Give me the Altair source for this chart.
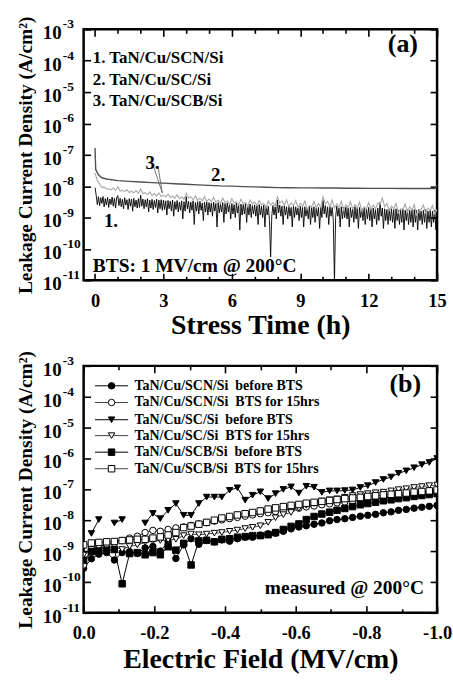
import altair as alt
import pandas as pd

SERIF = "Liberation Serif"

# ---------------- (a) leakage current during bias-temperature stress ----------------
# SCN trace, sampled every 0.05 h
scn_hours = [
    0.00, 0.05, 0.10, 0.15, 0.20, 0.25, 0.30, 0.35, 0.40, 0.45, 0.50, 0.55, 0.60, 0.65, 0.70, 0.75, 0.80, 0.85, 0.90, 0.95,
    1.00, 1.05, 1.10, 1.15, 1.20, 1.25, 1.30, 1.35, 1.40, 1.45, 1.50, 1.55, 1.60, 1.65, 1.70, 1.75, 1.80, 1.85, 1.90, 1.95,
    2.00, 2.05, 2.10, 2.15, 2.20, 2.25, 2.30, 2.35, 2.40, 2.45, 2.50, 2.55, 2.60, 2.65, 2.70, 2.75, 2.80, 2.85, 2.90, 2.95,
    3.00, 3.05, 3.10, 3.15, 3.20, 3.25, 3.30, 3.35, 3.40, 3.45, 3.50, 3.55, 3.60, 3.65, 3.70, 3.75, 3.80, 3.85, 3.90, 3.95,
    4.00, 4.05, 4.10, 4.15, 4.20, 4.25, 4.30, 4.35, 4.40, 4.45, 4.50, 4.55, 4.60, 4.65, 4.70, 4.75, 4.80, 4.85, 4.90, 4.95,
    5.00, 5.05, 5.10, 5.15, 5.20, 5.25, 5.30, 5.35, 5.40, 5.45, 5.50, 5.55, 5.60, 5.65, 5.70, 5.75, 5.80, 5.85, 5.90, 5.95,
    6.00, 6.05, 6.10, 6.15, 6.20, 6.25, 6.30, 6.35, 6.40, 6.45, 6.50, 6.55, 6.60, 6.65, 6.70, 6.75, 6.80, 6.85, 6.90, 6.95,
    7.00, 7.05, 7.10, 7.15, 7.20, 7.25, 7.30, 7.35, 7.40, 7.45, 7.50, 7.55, 7.60, 7.65, 7.70, 7.75, 7.80, 7.85, 7.90, 7.95,
    8.00, 8.05, 8.10, 8.15, 8.20, 8.25, 8.30, 8.35, 8.40, 8.45, 8.50, 8.55, 8.60, 8.65, 8.70, 8.75, 8.80, 8.85, 8.90, 8.95,
    9.00, 9.05, 9.10, 9.15, 9.20, 9.25, 9.30, 9.35, 9.40, 9.45, 9.50, 9.55, 9.60, 9.65, 9.70, 9.75, 9.80, 9.85, 9.90, 9.95,
    10.00, 10.05, 10.10, 10.15, 10.20, 10.25, 10.30, 10.35, 10.40, 10.45, 10.50, 10.55, 10.60, 10.65, 10.70, 10.75, 10.80, 10.85, 10.90, 10.95,
    11.00, 11.05, 11.10, 11.15, 11.20, 11.25, 11.30, 11.35, 11.40, 11.45, 11.50, 11.55, 11.60, 11.65, 11.70, 11.75, 11.80, 11.85, 11.90, 11.95,
    12.00, 12.05, 12.10, 12.15, 12.20, 12.25, 12.30, 12.35, 12.40, 12.45, 12.50, 12.55, 12.60, 12.65, 12.70, 12.75, 12.80, 12.85, 12.90, 12.95,
    13.00, 13.05, 13.10, 13.15, 13.20, 13.25, 13.30, 13.35, 13.40, 13.45, 13.50, 13.55, 13.60, 13.65, 13.70, 13.75, 13.80, 13.85, 13.90, 13.95,
    14.00, 14.05, 14.10, 14.15, 14.20, 14.25, 14.30, 14.35, 14.40, 14.45, 14.50, 14.55, 14.60, 14.65, 14.70, 14.75, 14.80, 14.85, 14.90, 14.95,
    15.00,
]
scn_current = [
    9.0e-9, 5.2e-9, 2.6e-9, 4.6e-9, 2.4e-9, 4.3e-9, 2.8e-9, 4.7e-9, 2.2e-9, 4.0e-9, 2.5e-9, 4.4e-9, 2.1e-9, 3.9e-9, 2.6e-9, 4.5e-9, 2.3e-9, 4.1e-9, 2.0e-9, 4.2e-9,
    5.0e-9, 2.4e-9, 4.1e-9, 2.2e-9, 3.8e-9, 1.9e-9, 4.3e-9, 2.5e-9, 3.7e-9, 1.8e-9, 4.0e-9, 2.3e-9, 3.9e-9, 1.6e-9, 4.1e-9, 2.2e-9, 3.6e-9, 2.0e-9, 4.0e-9, 2.1e-9,
    5.2e-9, 2.3e-9, 3.9e-9, 1.9e-9, 3.7e-9, 2.2e-9, 4.0e-9, 1.5e-9, 3.6e-9, 2.0e-9, 3.8e-9, 1.8e-9, 3.5e-9, 2.1e-9, 3.9e-9, 1.4e-9, 3.6e-9, 1.9e-9, 3.7e-9, 1.7e-9,
    3.6e-9, 1.8e-9, 3.4e-9, 1.2e-9, 3.5e-9, 1.9e-9, 3.3e-9, 1.6e-9, 3.6e-9, 1.1e-9, 3.2e-9, 1.8e-9, 3.5e-9, 1.5e-9, 3.1e-9, 1.7e-9, 3.4e-9, 9.0e-10, 3.2e-9, 1.6e-9,
    4.6e-9, 1.9e-9, 3.3e-9, 1.4e-9, 3.1e-9, 1.7e-9, 3.4e-9, 6.0e-10, 3.0e-9, 1.6e-9, 3.2e-9, 1.3e-9, 3.3e-9, 1.7e-9, 2.9e-9, 8.0e-10, 3.1e-9, 1.5e-9, 3.2e-9, 1.2e-9,
    3.0e-9, 1.5e-9, 2.9e-9, 1.1e-9, 3.1e-9, 1.6e-9, 2.8e-9, 5.0e-10, 3.0e-9, 1.4e-9, 2.7e-9, 1.5e-9, 3.0e-9, 7.0e-10, 2.8e-9, 1.3e-9, 2.9e-9, 1.5e-9, 2.7e-9, 9.0e-10,
    2.8e-9, 1.3e-9, 2.6e-9, 1.0e-9, 2.9e-9, 1.4e-9, 2.5e-9, 4.0e-10, 2.7e-9, 1.2e-9, 2.6e-9, 1.3e-9, 2.8e-9, 7.0e-10, 2.5e-9, 1.2e-9, 2.7e-9, 1.0e-9, 2.4e-9, 1.3e-9,
    2.5e-9, 1.1e-9, 2.4e-9, 6.0e-10, 2.6e-9, 1.2e-9, 2.3e-9, 1.0e-9, 2.5e-9, 5.0e-10, 2.4e-9, 1.2e-9, 2.3e-9, 8.0e-10, 5.5e-11, 1.1e-9, 2.4e-9, 1.2e-9, 2.2e-9, 9.0e-10,
    3.6e-9, 1.4e-9, 2.5e-9, 1.1e-9, 2.3e-9, 6.0e-10, 2.4e-9, 1.2e-9, 2.2e-9, 9.0e-10, 2.4e-9, 1.1e-9, 2.1e-9, 5.0e-10, 2.3e-9, 1.0e-9, 2.2e-9, 1.2e-9, 2.0e-9, 8.0e-10,
    2.3e-9, 1.0e-9, 2.1e-9, 5.0e-10, 2.2e-9, 1.1e-9, 2.0e-9, 9.0e-10, 2.3e-9, 6.0e-10, 2.1e-9, 1.0e-9, 2.2e-9, 7.0e-10, 2.0e-9, 1.1e-9, 2.1e-9, 4.5e-10, 2.2e-9, 1.0e-9,
    3.5e-9, 1.3e-9, 2.4e-9, 1.0e-9, 2.2e-9, 6.0e-10, 2.3e-9, 1.1e-9, 2.1e-9, 8.0e-10, 9.0e-12, 1.0e-9, 2.3e-9, 1.1e-9, 2.0e-9, 5.0e-10, 2.2e-9, 9.0e-10, 2.1e-9, 1.0e-9,
    2.2e-9, 9.0e-10, 2.0e-9, 5.0e-10, 2.1e-9, 1.0e-9, 1.9e-9, 7.0e-10, 2.2e-9, 9.0e-10, 2.0e-9, 4.5e-10, 2.1e-9, 1.0e-9, 1.9e-9, 8.0e-10, 2.0e-9, 6.0e-10, 1.9e-9, 9.0e-10,
    2.1e-9, 8.0e-10, 1.9e-9, 5.0e-10, 2.0e-9, 9.0e-10, 1.8e-9, 6.0e-10, 2.0e-9, 8.0e-10, 3.0e-9, 1.1e-9, 2.0e-9, 4.5e-10, 1.9e-9, 8.0e-10, 1.8e-9, 6.0e-10, 1.9e-9, 8.0e-10,
    1.9e-9, 7.0e-10, 1.8e-9, 4.5e-10, 1.9e-9, 8.0e-10, 1.7e-9, 6.0e-10, 1.8e-9, 7.0e-10, 1.9e-9, 4.0e-10, 1.7e-9, 8.0e-10, 1.8e-9, 6.0e-10, 1.7e-9, 7.0e-10, 1.8e-9, 5.0e-10,
    1.8e-9, 7.0e-10, 1.7e-9, 4.0e-10, 1.8e-9, 8.0e-10, 1.6e-9, 6.0e-10, 1.7e-9, 7.0e-10, 1.8e-9, 4.5e-10, 1.6e-9, 7.0e-10, 1.7e-9, 5.0e-10, 1.6e-9, 7.0e-10, 1.7e-9, 4.0e-10,
    1.2e-9,
]

# SCB trace, sampled every 0.1 h
scb_hours = [
    0.0, 0.1, 0.2, 0.3, 0.4, 0.5, 0.6, 0.7, 0.8, 0.9,
    1.0, 1.1, 1.2, 1.3, 1.4, 1.5, 1.6, 1.7, 1.8, 1.9,
    2.0, 2.1, 2.2, 2.3, 2.4, 2.5, 2.6, 2.7, 2.8, 2.9,
    3.0, 3.1, 3.2, 3.3, 3.4, 3.5, 3.6, 3.7, 3.8, 3.9,
    4.0, 4.1, 4.2, 4.3, 4.4, 4.5, 4.6, 4.7, 4.8, 4.9,
    5.0, 5.1, 5.2, 5.3, 5.4, 5.5, 5.6, 5.7, 5.8, 5.9,
    6.0, 6.1, 6.2, 6.3, 6.4, 6.5, 6.6, 6.7, 6.8, 6.9,
    7.0, 7.1, 7.2, 7.3, 7.4, 7.5, 7.6, 7.7, 7.8, 7.9,
    8.0, 8.1, 8.2, 8.3, 8.4, 8.5, 8.6, 8.7, 8.8, 8.9,
    9.0, 9.1, 9.2, 9.3, 9.4, 9.5, 9.6, 9.7, 9.8, 9.9,
    10.0, 10.1, 10.2, 10.3, 10.4, 10.5, 10.6, 10.7, 10.8, 10.9,
    11.0, 11.1, 11.2, 11.3, 11.4, 11.5, 11.6, 11.7, 11.8, 11.9,
    12.0, 12.1, 12.2, 12.3, 12.4, 12.5, 12.6, 12.7, 12.8, 12.9,
    13.0, 13.1, 13.2, 13.3, 13.4, 13.5, 13.6, 13.7, 13.8, 13.9,
    14.0, 14.1, 14.2, 14.3, 14.4, 14.5, 14.6, 14.7, 14.8, 14.9,
    15.0,
]
scb_current = [
    2.6e-8, 1.5e-8, 1.2e-8, 9.0e-9, 9.5e-9, 8.0e-9, 8.2e-9, 7.6e-9, 8.8e-9, 7.3e-9,
    9.6e-9, 7.0e-9, 7.4e-9, 6.6e-9, 7.8e-9, 6.3e-9, 6.9e-9, 6.1e-9, 7.2e-9, 5.9e-9,
    8.0e-9, 5.8e-9, 6.2e-9, 5.4e-9, 6.6e-9, 5.1e-9, 5.8e-9, 4.9e-9, 6.1e-9, 4.7e-9,
    5.2e-9, 4.6e-9, 5.6e-9, 4.3e-9, 4.9e-9, 4.1e-9, 5.3e-9, 4.0e-9, 4.6e-9, 3.8e-9,
    6.0e-9, 4.2e-9, 4.6e-9, 3.7e-9, 4.9e-9, 3.5e-9, 4.2e-9, 3.4e-9, 4.6e-9, 3.3e-9,
    3.9e-9, 3.2e-9, 4.4e-9, 3.1e-9, 3.6e-9, 2.8e-9, 4.2e-9, 3.0e-9, 3.4e-9, 2.6e-9,
    4.0e-9, 2.9e-9, 3.3e-9, 2.5e-9, 3.8e-9, 2.8e-9, 3.0e-9, 2.2e-9, 3.6e-9, 2.7e-9,
    3.1e-9, 2.4e-9, 3.5e-9, 2.6e-9, 2.8e-9, 2.0e-9, 3.4e-9, 2.5e-9, 3.0e-9, 2.3e-9,
    4.6e-9, 2.9e-9, 3.4e-9, 2.5e-9, 3.7e-9, 2.2e-9, 2.9e-9, 2.4e-9, 3.5e-9, 2.1e-9,
    2.8e-9, 2.3e-9, 3.4e-9, 1.8e-9, 2.4e-9, 2.2e-9, 3.3e-9, 2.0e-9, 2.8e-9, 2.1e-9,
    4.6e-9, 2.7e-9, 3.3e-9, 2.2e-9, 3.6e-9, 2.0e-9, 2.7e-9, 2.1e-9, 3.3e-9, 1.7e-9,
    2.5e-9, 2.1e-9, 3.2e-9, 1.9e-9, 2.6e-9, 2.0e-9, 3.1e-9, 1.6e-9, 2.2e-9, 1.9e-9,
    3.0e-9, 1.8e-9, 2.5e-9, 1.9e-9, 2.9e-9, 2.6e-9, 4.2e-9, 2.2e-9, 2.8e-9, 1.7e-9,
    2.3e-9, 1.9e-9, 2.8e-9, 1.4e-9, 1.9e-9, 1.8e-9, 2.7e-9, 1.5e-9, 2.2e-9, 1.7e-9,
    2.6e-9, 1.2e-9, 1.6e-9, 1.8e-9, 2.5e-9, 1.4e-9, 2.0e-9, 1.7e-9, 2.4e-9, 1.3e-9,
    1.8e-9,
]

# SC trace
sc_hours = [
    0.0, 0.03, 0.15, 0.3, 0.5, 1.0, 1.5, 2.0, 2.5, 3.0, 3.5, 4.0, 4.5, 5.0, 5.5,
    6.0, 6.5, 7.0, 7.5, 8.0, 8.5, 9.0, 9.5, 10.0, 10.5, 11.0, 11.5, 12.0, 12.5,
    13.0, 13.5, 14.0, 14.5, 14.9, 15.0,
]
sc_current = [
    1.65e-7, 3.4e-8, 2.3e-8, 1.85e-8, 1.7e-8, 1.5e-8, 1.42e-8, 1.36e-8, 1.3e-8,
    1.25e-8, 1.2e-8, 1.15e-8, 1.1e-8, 1.06e-8, 1.02e-8, 1.0e-8, 9.7e-9, 9.5e-9,
    9.2e-9, 9.0e-9, 8.9e-9, 8.8e-9, 8.8e-9, 8.7e-9, 8.7e-9, 8.6e-9, 8.6e-9,
    8.5e-9, 8.5e-9, 8.5e-9, 8.4e-9, 8.4e-9, 8.4e-9, 8.4e-9, 1.0e-8,
]

hour_major = [0, 3, 6, 9, 12, 15]
hour_minor = [1, 2, 4, 5, 7, 8, 10, 11, 13, 14]

sample_text = ["1. TaN/Cu/SCN/Si", "2. TaN/Cu/SC/Si", "3. TaN/Cu/SCB/Si"]
sample_text_current = [1.2e-4, 2.4e-5, 5.1e-6]
curve_tags = ["1.", "2.", "3."]
curve_tag_hours = [0.7, 5.4, 2.52]
curve_tag_current = [7.7e-10, 2.35e-8, 5.5e-8]

# ---------------- (b) J-E characteristics before / after BTS ----------------
field_mvcm = [
    0.000, -0.022, -0.043, -0.065, -0.087, -0.109, -0.130, -0.152, -0.174, -0.196,
    -0.217, -0.239, -0.261, -0.283, -0.304, -0.326, -0.348, -0.370, -0.391, -0.413,
    -0.435, -0.457, -0.478, -0.500, -0.522, -0.543, -0.565, -0.587, -0.609, -0.630,
    -0.652, -0.674, -0.696, -0.717, -0.739, -0.761, -0.783, -0.804, -0.826, -0.848,
    -0.870, -0.891, -0.913, -0.935, -0.957, -0.978, -1.000,
]
# log10 of the leakage current density (A/cm2)
log_scn_before = [
    -9.56, -9.25, -9.10, -9.05, -9.29, -9.05, -9.02, -9.08, -8.90, -8.85,
    -9.00, -8.70, -9.24, -8.80, -8.60, -8.78, -8.66, -8.70, -8.64, -8.68,
    -8.60, -8.55, -8.55, -8.48, -8.44, -8.42, -8.36, -8.28, -8.22, -8.18,
    -8.13, -8.09, -8.02, -7.98, -7.95, -7.91, -7.87, -7.84, -7.81, -7.76,
    -7.73, -7.68, -7.65, -7.61, -7.58, -7.55, -7.52,
]
log_scn_after = [
    -9.45, -8.95, -8.85, -8.80, -8.72, -8.66, -8.58, -8.52, -8.40, -8.33,
    -8.36, -8.30, -8.25, -8.22, -8.17, -8.12, -8.08, -8.03, -7.99, -7.95,
    -7.91, -7.87, -7.83, -7.79, -7.76, -7.72, -7.68, -7.64, -7.61, -7.57,
    -7.54, -7.50, -7.47, -7.44, -7.41, -7.38, -7.35, -7.33, -7.30, -7.27,
    -7.25, -7.22, -7.19, -7.17, -7.14, -7.11, -7.08,
]
log_sc_before = [
    None, -8.43, -7.98, None, -8.09, -7.98, None, None, -8.09, -7.78,
    -7.95, -7.68, -7.46, -7.84, -7.84, -7.46, -7.25, -7.25, -7.25, -7.03,
    -6.95, -7.35, -7.19, -7.08, -7.30, -7.14, -7.00, -6.92, -7.12, -6.90,
    -6.93, -7.10, -7.05, -7.05, -7.04, -7.02, -6.94, -6.88, -6.78, -6.68,
    -6.60, -6.48, -6.40, -6.30, -6.20, -6.13, -6.00,
]
log_sc_after = [
    -9.13, -8.95, -8.90, -8.88, -8.86, -8.95, -8.85, -8.80, -8.72, -8.68,
    -8.66, -8.64, -8.62, -8.50, -8.45, -8.47, -8.45, -8.42, -8.40, -8.36,
    -8.32, -8.27, -8.23, -8.18, -8.07, -7.92, -7.82, -7.75, -7.62, -7.52,
    -7.46, -7.38, -7.34, -7.31, -7.26, -7.20, -7.17, -7.14, -7.11, -7.09,
    -7.05, -7.01, -6.98, -6.94, -6.91, -6.88, -6.86,
]
log_scb_before = [
    -9.30, -9.02, -9.00, -8.97, -8.95, -10.06, -9.08, -9.05, -9.12, -9.05,
    -9.12, -8.86, -8.97, -8.75, -9.45, -8.67, -8.65, -8.70, -8.62, -8.60,
    -8.55, -8.53, -8.50, -8.50, -8.47, -8.40, -8.30, -8.20, -8.12, -7.98,
    -7.88, -7.80, -7.74, -7.68, -7.62, -7.56, -7.50, -7.46, -7.42, -7.37,
    -7.34, -7.30, -7.27, -7.23, -7.20, -7.17, -7.14,
]
log_scb_after = [
    -8.80, -8.74, -8.72, -8.70, -8.69, -8.66, -8.64, -8.62, -8.62, -8.58,
    -8.54, -8.48, -8.40, -8.24, -8.19, -8.13, -8.07, -8.00, -7.93, -7.88,
    -7.83, -7.79, -7.75, -7.70, -7.64, -7.60, -7.56, -7.52, -7.49, -7.45,
    -7.42, -7.39, -7.36, -7.33, -7.30, -7.28, -7.26, -7.23, -7.21, -7.18,
    -7.16, -7.14, -7.12, -7.09, -7.07, -7.05, -7.02,
]

series_names = [
    "TaN/Cu/SCN/Si\u00a0 before BTS",
    "TaN/Cu/SCN/Si\u00a0 BTS for 15hrs",
    "TaN/Cu/SC/Si\u00a0 before BTS",
    "TaN/Cu/SC/Si\u00a0 BTS for 15hrs",
    "TaN/Cu/SCB/Si\u00a0 before BTS",
    "TaN/Cu/SCB/Si\u00a0 BTS for 15hrs",
]
series_logs = [log_scn_before, log_scn_after, log_sc_before,
               log_sc_after, log_scb_before, log_scb_after]
series_shapes = ["circle", "circle", "triangle-down", "triangle-down", "square", "square"]
series_fills = ["black", "white", "black", "white", "black", "white"]
series_lines = ["black", "#444444", "black", "#444444", "black", "#444444"]
legend_row_current = [2.26e-4, 6.5e-5, 1.8e-5, 5.5e-6, 1.6e-6, 4.65e-7]

field_major = [0.0, -0.2, -0.4, -0.6, -0.8, -1.0]
field_minor = [-0.1, -0.3, -0.5, -0.7, -0.9]

decades = [1e-3, 1e-4, 1e-5, 1e-6, 1e-7, 1e-8, 1e-9, 1e-10, 1e-11]
decade_exponents = ["-3", "-4", "-5", "-6", "-7", "-8", "-9", "-10", "-11"]

# ---------------- tables ----------------
df_scn = pd.DataFrame({"hours": scn_hours, "current": scn_current})
df_scb = pd.DataFrame({"hours": scb_hours, "current": scb_current})
df_sc = pd.DataFrame({"hours": sc_hours, "current": sc_current})
df_dec = pd.DataFrame({"value": decades, "base": ["10"] * len(decades), "exp": decade_exponents})

rows = []
for k, name in enumerate(series_names):
    for e, lg in zip(field_mvcm, series_logs[k]):
        rows.append({
            "order": k, "series": name, "field": e,
            "current": None if lg is None else 10 ** lg,
            "shape": series_shapes[k], "fill": series_fills[k], "line": series_lines[k],
        })
df_b = pd.DataFrame(rows)

df_legend = pd.DataFrame({
    "label": series_names, "current": legend_row_current,
    "shape": series_shapes, "fill": series_fills, "line": series_lines,
    "x0": [-0.032] * 6, "x1": [-0.126] * 6, "xm": [-0.079] * 6, "xt": [-0.144] * 6,
})

# ---------------- shared helpers ----------------
ylog = alt.Scale(type="log", domain=[1e-11, 1e-3], nice=False)


def edge_axis(orient, values, length, **extra):
    """Axis whose ticks point into the plot frame."""
    opts = dict(orient=orient, values=values, tickSize=length, offset=-length,
                domain=False, grid=False, ticks=True, tickColor="black",
                tickWidth=1.6, labels=False, title=None)
    opts.update(extra)
    return alt.Axis(**opts)


label_style = dict(labels=True, labelFont=SERIF, labelFontSize=18.5, labelFontWeight="bold",
                   labelColor="black", labelFlush=False, labelOverlap=False, labelPadding=11)
xtitle_style = dict(titleFont=SERIF, titleFontSize=28, titleFontWeight="bold", titleColor="black")
ytitle = "Leakage Current Density (A/cm\u00b2)"
ytitle_style = dict(title=ytitle, titleFont=SERIF, titleFontSize=19.5, titleFontWeight="bold",
                    titleColor="black", titlePadding=48)


def decade_labels():
    base = alt.Chart(df_dec).mark_text(
        font=SERIF, fontSize=19, fontWeight="bold", align="right", baseline="middle",
        dy=4, color="black"
    ).encode(x=alt.value(-22), y=alt.Y("value:Q", scale=ylog, axis=None), text="base:N")
    exp = alt.Chart(df_dec).mark_text(
        font=SERIF, fontSize=13.5, fontWeight="bold", align="left", baseline="middle",
        dy=-5, color="black"
    ).encode(x=alt.value(-21), y=alt.Y("value:Q", scale=ylog, axis=None), text="exp:N")
    return [base, exp]


def note(df, xfield, xscale, size, align):
    return alt.Chart(df).mark_text(
        font=SERIF, fontSize=size, fontWeight="bold", align=align,
        baseline="middle", color="black"
    ).encode(x=alt.X(f"{xfield}:Q", scale=xscale, axis=None),
             y=alt.Y("current:Q", scale=ylog, axis=None), text="text:N")


# ---------------- panel (a) ----------------
xa = alt.Scale(domain=[-0.5, 15], nice=False, zero=False)

a_scn = alt.Chart(df_scn).mark_line(color="black", strokeWidth=0.9, clip=True).encode(
    x=alt.X("hours:Q", scale=xa, axis=edge_axis(
        "bottom", hour_major, 7, title="Stress Time (h)", titlePadding=2,
        **label_style, **xtitle_style)),
    y=alt.Y("current:Q", scale=ylog, axis=edge_axis("left", decades, 7, **ytitle_style)),
)
a_scb = alt.Chart(df_scb).mark_line(color="#a8a8a8", strokeWidth=1.1, clip=True).encode(
    x=alt.X("hours:Q", scale=xa, axis=edge_axis("top", hour_major, 7)),
    y=alt.Y("current:Q", scale=ylog, axis=edge_axis("right", decades, 7)),
)
a_sc = alt.Chart(df_sc).mark_line(color="#505050", strokeWidth=1.4, clip=True).encode(
    x=alt.X("hours:Q", scale=xa, axis=edge_axis("bottom", hour_minor, 4)),
    y=alt.Y("current:Q", scale=ylog, axis=None),
)
leader = pd.DataFrame({"h0": [2.56, 2.76], "c0": [4.3e-8, 4.3e-8],
                       "h1": [2.95, 2.95], "c1": [6.1e-9, 6.1e-9]})
a_leader = alt.Chart(leader).mark_rule(color="#555555", strokeWidth=0.8).encode(
    x=alt.X("h0:Q", scale=xa, axis=edge_axis("top", hour_minor, 4)),
    x2="h1:Q",
    y=alt.Y("c0:Q", scale=ylog, axis=None),
    y2="c1:Q",
)
a_samples = note(pd.DataFrame({"text": sample_text, "hours": [-0.1] * 3,
                               "current": sample_text_current}), "hours", xa, 17, "left")
a_tags = note(pd.DataFrame({"text": curve_tags, "hours": curve_tag_hours,
                            "current": curve_tag_current}), "hours", xa, 19, "center")
a_panel_tag = note(pd.DataFrame({"text": ["(a)"], "hours": [13.5], "current": [3.3e-4]}),
                   "hours", xa, 26, "center")
a_condition = note(pd.DataFrame({"text": ["BTS: 1 MV/cm @ 200\u00b0C"], "hours": [-0.1],
                                 "current": [2.8e-11]}), "hours", xa, 19.5, "left")

panel_a = alt.layer(
    a_scn, a_scb, a_sc, a_leader, a_samples, a_tags, a_panel_tag, a_condition,
    *decade_labels()
).resolve_axis(x="independent", y="independent").properties(width=355, height=252)

# ---------------- panel (b) ----------------
xb = alt.Scale(domain=[-1.0, 0.0], reverse=True, nice=False, zero=False)
field_label = "datum.value == 0 ? '0.0' : '-' + format(abs(datum.value), '.1f')"

b_lines = alt.Chart(df_b).mark_line(strokeWidth=1, invalid="break-paths-filter-domains", clip=True).encode(
    x=alt.X("field:Q", scale=xb, axis=edge_axis(
        "bottom", field_major, 7, title="Electric Field (MV/cm)", titlePadding=3,
        labelExpr=field_label, **label_style, **xtitle_style)),
    y=alt.Y("current:Q", scale=ylog, axis=edge_axis("left", decades, 7, **ytitle_style)),
    color=alt.Color("line:N", scale=None),
    detail="order:N",
)
b_points = alt.Chart(df_b).mark_point(filled=True, stroke="black", strokeWidth=1, size=42,
                                      opacity=1, clip=True).encode(
    x=alt.X("field:Q", scale=xb, axis=edge_axis("top", field_major, 7)),
    y=alt.Y("current:Q", scale=ylog, axis=edge_axis("right", decades, 7)),
    shape=alt.Shape("shape:N", scale=None),
    fill=alt.Fill("fill:N", scale=None),
    detail="order:N",
)
b_leg_lines = alt.Chart(df_legend).mark_rule(strokeWidth=1).encode(
    x=alt.X("x0:Q", scale=xb, axis=edge_axis("bottom", field_minor, 4)),
    x2="x1:Q",
    y=alt.Y("current:Q", scale=ylog, axis=None),
    color=alt.Color("line:N", scale=None),
)
b_leg_marks = alt.Chart(df_legend).mark_point(filled=True, stroke="black", strokeWidth=1,
                                              size=42, opacity=1).encode(
    x=alt.X("xm:Q", scale=xb, axis=edge_axis("top", field_minor, 4)),
    y=alt.Y("current:Q", scale=ylog, axis=None),
    shape=alt.Shape("shape:N", scale=None),
    fill=alt.Fill("fill:N", scale=None),
)
b_leg_text = alt.Chart(df_legend).mark_text(
    font=SERIF, fontSize=14, fontWeight="bold", align="left", baseline="middle", color="black"
).encode(x=alt.X("xt:Q", scale=xb, axis=None),
         y=alt.Y("current:Q", scale=ylog, axis=None), text="label:N")
b_panel_tag = note(pd.DataFrame({"text": ["(b)"], "field": [-0.91], "current": [2.6e-4]}),
                   "field", xb, 26, "center")
b_condition = note(pd.DataFrame({"text": ["measured @ 200\u00b0C"], "field": [-0.963],
                                 "current": [6.4e-11]}), "field", xb, 19.5, "right")

panel_b = alt.layer(
    b_lines, b_points, b_leg_lines, b_leg_marks, b_leg_text, b_panel_tag, b_condition,
    *decade_labels()
).resolve_axis(x="independent", y="independent").properties(width=355, height=248)

chart = alt.vconcat(panel_a, panel_b, spacing=8).properties(
    padding={"left": 13, "top": 13, "right": 0, "bottom": 0},
    background="white",
).configure_view(stroke="black", strokeWidth=2.5)

chart.save("out.html", embed_options={"renderer": "svg", "actions": False})
